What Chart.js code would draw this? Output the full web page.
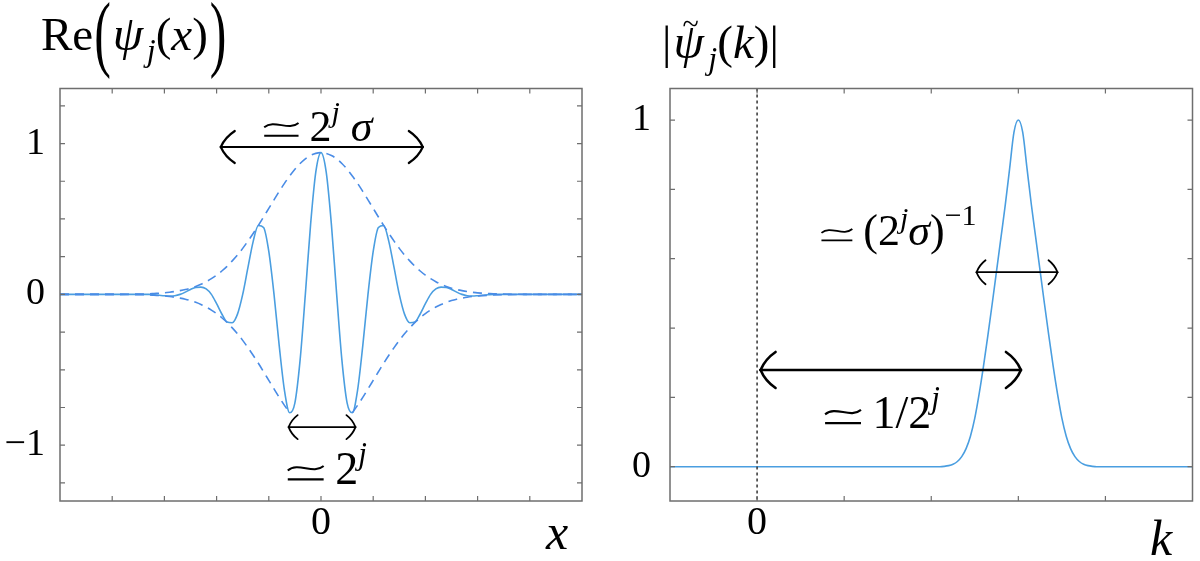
<!DOCTYPE html>
<html>
<head>
<meta charset="utf-8">
<title>Wavelet and its spectrum</title>
<script src="https://cdn.jsdelivr.net/npm/chart.js@4.4.1/dist/chart.umd.min.js"></script>
<style>
  html, body { margin: 0; padding: 0; background: #fff; }
  #wrap { position: relative; width: 1200px; height: 561px; }
  .panel { position: absolute; top: 0; width: 600px; height: 561px; }
  #leftPanel { left: 0; }
  #rightPanel { left: 600px; }
</style>
</head>
<body>
<div id="wrap">
  <div class="panel" id="leftPanel"><canvas id="waveletChart" width="600" height="561"></canvas></div>
  <div class="panel" id="rightPanel"><canvas id="spectrumChart" width="600" height="561"></canvas></div>
</div>
<script>
// ---- data ----

// left panel: sample positions along x
const xGrid = [-5, -4, -3.5, -3.3, -3.2, -3.1, -3, -2.9, -2.8, -2.7, -2.6, -2.5, -2.4, -2.3, -2.2, -2.1, -2,
  -1.9, -1.8, -1.7, -1.6, -1.5, -1.4, -1.3, -1.2, -1.1, -1, -0.9, -0.8, -0.7, -0.6, -0.5, -0.4, -0.3, -0.2, -0.1,
  0, 0.1, 0.2, 0.3, 0.4, 0.5, 0.6, 0.7, 0.8, 0.9, 1, 1.1, 1.2, 1.3, 1.4, 1.5, 1.6, 1.7, 1.8, 1.9, 2,
  2.1, 2.2, 2.3, 2.4, 2.5, 2.6, 2.7, 2.8, 2.9, 3, 3.1, 3.2, 3.3, 3.5, 4, 5];

// Re(psi_j(x)) – solid curve
const waveletRe = [0, 0, 0,
  0, -0.003, -0.006, -0.009, -0.011, -0.009, 0, 0.015, 0.033, 0.046, 0.048, 0.036, 0, -0.062,
  -0.13, -0.183, -0.188, -0.131, 0, 0.177, 0.35, 0.457, 0.444, 0.285, 0, -0.342, -0.637, -0.785, -0.719, -0.434, 0, 0.461, 0.81,
  0.94,
  0.81, 0.461, 0, -0.434, -0.719, -0.785, -0.637, -0.342, 0, 0.285, 0.444, 0.457, 0.35, 0.177, 0, -0.131, -0.188, -0.183, -0.13, -0.062,
  0, 0.036, 0.048, 0.046, 0.033, 0.015, 0, -0.009, -0.011, -0.009, -0.006, -0.003, 0,
  0, 0, 0];

// dashed envelope, upper and lower (the lower one is hidden under the "≃ 2^j" label between the troughs)
const envelopeUpper = [0, 0, 0.002,
  0.004, 0.006, 0.008, 0.01, 0.014, 0.019, 0.025, 0.032, 0.041, 0.053, 0.067, 0.084, 0.104, 0.127,
  0.155, 0.186, 0.222, 0.261, 0.305, 0.353, 0.404, 0.457, 0.513, 0.57, 0.627, 0.683, 0.736, 0.785, 0.83, 0.868, 0.899, 0.921, 0.935,
  0.94,
  0.935, 0.921, 0.899, 0.868, 0.83, 0.785, 0.736, 0.683, 0.627, 0.57, 0.513, 0.457, 0.404, 0.353, 0.305, 0.261, 0.222, 0.186, 0.155, 0.127,
  0.104, 0.084, 0.067, 0.053, 0.041, 0.032, 0.025, 0.019, 0.014, 0.01, 0.008, 0.006, 0.004,
  0.002, 0, 0];

const envelopeLower = [0, 0, -0.002,
  -0.004, -0.006, -0.008, -0.01, -0.014, -0.019, -0.025, -0.032, -0.041, -0.053, -0.067, -0.084, -0.104, -0.127,
  -0.155, -0.186, -0.222, -0.261, -0.305, -0.353, -0.404, -0.457, -0.513, -0.57, -0.627, -0.683, -0.736, -0.785, null, null, null, null, null,
  null,
  null, null, null, null, null, -0.785, -0.736, -0.683, -0.627, -0.57, -0.513, -0.457, -0.404, -0.353, -0.305, -0.261, -0.222, -0.186, -0.155, -0.127,
  -0.104, -0.084, -0.067, -0.053, -0.041, -0.032, -0.025, -0.019, -0.014, -0.01, -0.008, -0.006, -0.004,
  -0.002, 0, 0];

// right panel: sample positions along k
const kGrid = [-1, 0, 1, 2, 2.1, 2.15, 2.2, 2.25, 2.3, 2.35, 2.4, 2.45, 2.5, 2.55, 2.6, 2.65, 2.7, 2.75, 2.8, 2.85, 2.9, 2.95,
  3, 3.05, 3.1, 3.15, 3.2, 3.25, 3.3, 3.35, 3.4, 3.45, 3.5, 3.55, 3.6, 3.65, 3.7, 3.75, 3.8, 3.85, 3.9, 4, 5];

// |psi~_j(k)|
const spectrumAbs = [0, 0, 0, 0, 0, 0.001, 0.003, 0.007, 0.015, 0.029, 0.052, 0.088, 0.14, 0.21, 0.29, 0.378, 0.47, 0.565, 0.66, 0.755, 0.86, 0.965,
  1, 0.965, 0.86, 0.755, 0.66, 0.565, 0.47, 0.378, 0.29, 0.21, 0.14, 0.088, 0.052, 0.029, 0.015, 0.007, 0.003, 0.001, 0, 0, 0];

// labelled ticks
const leftYLabels = [-1, 0, 1];
const leftXLabels = [0];
const rightYLabels = [0, 1];
const rightXLabels = [0];

// ---- styling ----
const SERIF = '"Liberation Serif", "DejaVu Serif", serif';
const MATH = '"Liberation Serif", "DejaVu Serif", serif';
const SIMEQ = '\u2243';
const LINE_BLUE = '#4a9ee0';
const DASH_BLUE = '#4a8ce6';
const FRAME_GREY = '#6e6e6e';

function toPoints(xs, ys) {
    return xs.map((x, i) => ({ x: x, y: ys[i] }));
}

function labelFor(list) {
    return function(value) {
        const hit = list.find(v => Math.abs(v - value) < 1e-6);
        if (hit === undefined) return '';
        return hit < 0 ? '\u2212' + Math.abs(hit) : String(hit);
    };
}

// thin "asymptotically equal" sign, drawn by hand (font glyphs are too heavy)
function drawSimeq(ctx, x0, base, fs) {
    const w = 0.78 * fs;
    const a = 0.07 * fs;
    const yc = base - 0.35 * fs;
    const yl = base - 0.11 * fs;
    ctx.save();
    ctx.strokeStyle = '#000';
    ctx.lineWidth = Math.max(1.3, 0.045 * fs);
    ctx.lineCap = 'butt';
    ctx.beginPath();
    ctx.moveTo(x0, yc + a * 0.7);
    ctx.bezierCurveTo(x0 + w * 0.3, yc - 2.1 * a, x0 + w * 0.7, yc + 2.1 * a, x0 + w, yc - a * 0.7);
    ctx.moveTo(x0, yl);
    ctx.lineTo(x0 + w, yl);
    ctx.stroke();
    ctx.restore();
    return w;
}

// draw a run of text pieces: [text, italic, sizeFactor, dy]
function drawRuns(ctx, runs, x, y, size, align) {
    const fontOf = r => (r[1] ? 'italic ' : '') + Math.round(size * (r[2] || 1)) + 'px ' + MATH;
    const widthOf = r => {
        if (r[0] === SIMEQ) return 0.78 * size * (r[2] || 1);
        ctx.font = fontOf(r);
        return ctx.measureText(r[0]).width;
    };
    let total = 0;
    runs.forEach(r => { total += widthOf(r); });
    let cx = align === 'center' ? x - total / 2 : x;
    ctx.textAlign = 'left';
    ctx.textBaseline = 'alphabetic';
    runs.forEach(r => {
        if (r[0] === SIMEQ) {
            cx += drawSimeq(ctx, cx, y, size * (r[2] || 1));
            return;
        }
        ctx.font = fontOf(r);
        ctx.fillText(r[0], cx, y + (r[3] || 0));
        cx += ctx.measureText(r[0]).width;
    });
    return cx;
}

// LaTeX style double arrow with curved barbs
function drawDoubleArrow(ctx, x1, x2, y, lw, L, H) {
    ctx.save();
    ctx.strokeStyle = '#000';
    ctx.lineWidth = lw;
    ctx.lineCap = 'round';
    ctx.beginPath();
    ctx.moveTo(x1, y);
    ctx.lineTo(x2, y);
    ctx.stroke();
    [[x1, 1], [x2, -1]].forEach(([tx, dir]) => {
        [-1, 1].forEach(s => {
            ctx.beginPath();
            ctx.moveTo(tx, y);
            ctx.quadraticCurveTo(tx + dir * L * 0.3, y + s * H * 0.6, tx + dir * L, y + s * H);
            ctx.stroke();
        });
    });
    ctx.restore();
}

// frame, inward ticks and annotations
const framePlugin = {
    id: 'frame',
    afterDraw(chart, args, opts) {
        const ctx = chart.ctx;
        const area = chart.chartArea;
        const xs = chart.scales.x;
        const ys = chart.scales.y;
        ctx.save();

        // zero line (right panel)
        if (opts.zeroLine) {
            const px = xs.getPixelForValue(0);
            ctx.strokeStyle = '#333';
            ctx.lineWidth = 1.5;
            ctx.setLineDash([3, 3]);
            ctx.beginPath();
            ctx.moveTo(px, area.top);
            ctx.lineTo(px, area.bottom);
            ctx.stroke();
            ctx.setLineDash([]);
        }

        // box
        ctx.strokeStyle = FRAME_GREY;
        ctx.lineWidth = 1.5;
        ctx.strokeRect(area.left, area.top, area.right - area.left, area.bottom - area.top);

        // inward tick marks on all four sides
        const tl = 5;
        ctx.lineWidth = 1.2;
        ctx.beginPath();
        xs.ticks.forEach(t => {
            const px = xs.getPixelForValue(t.value);
            if (px <= area.left + 1 || px >= area.right - 1) return;
            ctx.moveTo(px, area.bottom); ctx.lineTo(px, area.bottom - tl);
            ctx.moveTo(px, area.top); ctx.lineTo(px, area.top + tl);
        });
        ys.ticks.forEach(t => {
            const py = ys.getPixelForValue(t.value);
            if (py <= area.top + 1 || py >= area.bottom - 1) return;
            ctx.moveTo(area.left, py); ctx.lineTo(area.left + tl, py);
            ctx.moveTo(area.right, py); ctx.lineTo(area.right - tl, py);
        });
        ctx.stroke();

        // arrows
        ctx.fillStyle = '#000';
        (opts.arrows || []).forEach(a => {
            drawDoubleArrow(ctx, xs.getPixelForValue(a.from), xs.getPixelForValue(a.to),
                ys.getPixelForValue(a.y), a.lw, a.L, a.H);
        });

        // math labels
        (opts.notes || []).forEach(n => {
            drawRuns(ctx, n.runs, xs.getPixelForValue(n.x), ys.getPixelForValue(n.y), n.size, 'center');
        });

        // axis name at the bottom right
        if (opts.axisName) {
            ctx.font = 'italic ' + opts.axisName.size + 'px ' + MATH;
            ctx.textAlign = 'left';
            ctx.textBaseline = 'alphabetic';
            ctx.fillText(opts.axisName.text, opts.axisName.px, opts.axisName.py);
        }

        // panel title
        if (opts.title) opts.title(ctx);
        ctx.restore();
    }
};

function bigParen(ctx, ch, x, size, centerY, stretch) {
    ctx.save();
    ctx.font = size + 'px ' + MATH;
    const w = ctx.measureText(ch).width;
    ctx.translate(x, centerY + size * 0.235 * stretch);
    ctx.scale(1, stretch);
    ctx.textAlign = 'left';
    ctx.textBaseline = 'alphabetic';
    ctx.fillText(ch, 0, 0);
    ctx.restore();
    return x + w;
}

function leftTitle(ctx) {
    const base = 50;
    const size = 47;
    let x = drawRuns(ctx, [['Re', false, 1, 0]], 41, base, size, 'left');
    x = bigParen(ctx, '(', x + 1, 50, 41, 1.7);
    x = drawRuns(ctx, [['\u03C8', true, 1.05, 0], [' ', false, 0.3, 0], ['j', true, 0.68, 11], ['(', false, 1, 0], ['x', true, 1, 0], [')', false, 1, 0]], x + 2, base, size, 'left');
    bigParen(ctx, ')', x + 2, 50, 41, 1.7);
}

function rightTitle(ctx) {
    const base = 58;
    const size = 47;
    let x = drawRuns(ctx, [['|', false, 1, 0]], 62, base, size, 'left');
    const psiX = x + 2;
    x = drawRuns(ctx, [['\u03C8', true, 1.05, 0]], psiX, base, size, 'left');
    ctx.font = '30px ' + MATH;
    ctx.fillText('~', psiX + 9, base - 24);
    drawRuns(ctx, [[' ', false, 0.3, 0], ['j', true, 0.68, 11], ['(', false, 1, 0], ['k', true, 1, 0], [')|', false, 1, 0]], x + 1, base, size, 'left');
}

function baseOptions(cfg) {
    return {
        responsive: false,
        animation: false,
        events: [],
        layout: { padding: cfg.padding },
        plugins: {
            legend: { display: false },
            tooltip: { enabled: false },
            frame: cfg.frame
        },
        scales: {
            x: {
                type: 'linear',
                min: cfg.xMin,
                max: cfg.xMax,
                grid: { display: false },
                border: { display: false },
                afterFit: s => { s.height = 60; },
                ticks: {
                    stepSize: 1,
                    includeBounds: false,
                    autoSkip: false,
                    maxRotation: 0,
                    padding: -10,
                    color: '#000',
                    font: { family: SERIF, size: 40 },
                    callback: labelFor(cfg.xLabels)
                }
            },
            y: {
                type: 'linear',
                min: cfg.yMin,
                max: cfg.yMax,
                grid: { display: false },
                border: { display: false },
                afterFit: s => { s.width = cfg.yWidth; },
                ticks: {
                    stepSize: cfg.yStep,
                    includeBounds: false,
                    autoSkip: false,
                    padding: cfg.yPad,
                    color: '#000',
                    font: { family: SERIF, size: 38 },
                    callback: labelFor(cfg.yLabels)
                }
            }
        }
    };
}

document.addEventListener('DOMContentLoaded', function() {
    Chart.register(framePlugin);

    // Left panel: real part of the wavelet
    new Chart(document.getElementById('waveletChart').getContext('2d'), {
        type: 'line',
        data: {
            datasets: [
                {
                    label: 'envelope +',
                    data: toPoints(xGrid, envelopeUpper),
                    borderColor: DASH_BLUE,
                    borderWidth: 1.6,
                    borderDash: [9, 6],
                    pointRadius: 0,
                    cubicInterpolationMode: 'monotone'
                },
                {
                    label: 'envelope -',
                    data: toPoints(xGrid, envelopeLower),
                    borderColor: DASH_BLUE,
                    borderWidth: 1.6,
                    borderDash: [9, 6],
                    pointRadius: 0,
                    spanGaps: false,
                    cubicInterpolationMode: 'monotone'
                },
                {
                    label: 'Re psi',
                    data: toPoints(xGrid, waveletRe),
                    borderColor: LINE_BLUE,
                    borderWidth: 1.6,
                    pointRadius: 0,
                    cubicInterpolationMode: 'monotone'
                }
            ]
        },
        options: baseOptions({
            padding: { top: 88.5, right: 18, left: 0, bottom: 0 },
            xMin: -5, xMax: 5, xLabels: leftXLabels,
            yMin: -1.37, yMax: 1.365, yStep: 0.25, yLabels: leftYLabels, yWidth: 60, yPad: 7,
            frame: {
                arrows: [
                    { from: -1.92, to: 1.95, y: 0.977, lw: 2.2, L: 14, H: 16 },
                    { from: -0.62, to: 0.66, y: -0.88, lw: 1.8, L: 9, H: 12 }
                ],
                notes: [
                    { x: -0.05, y: 1.02, size: 44, runs: [[SIMEQ, false, 1, 0], [' 2', false, 1, 0], ['j', true, 0.68, -19], [' \u03C3', true, 1, 0]] },
                    { x: 0.12, y: -1.26, size: 46, runs: [[SIMEQ, false, 1, 0], [' 2', false, 1, 0], ['j', true, 0.68, -20]] }
                ],
                axisName: { text: 'x', size: 50, px: 546, py: 549 },
                title: leftTitle
            }
        })
    });

    // Right panel: modulus of the Fourier transform
    new Chart(document.getElementById('spectrumChart').getContext('2d'), {
        type: 'line',
        data: {
            datasets: [
                {
                    label: '|psi~|',
                    data: toPoints(kGrid, spectrumAbs),
                    borderColor: LINE_BLUE,
                    borderWidth: 1.6,
                    pointRadius: 0,
                    cubicInterpolationMode: 'monotone'
                }
            ]
        },
        options: baseOptions({
            padding: { top: 88.5, right: 7.5, left: 0, bottom: 0 },
            xMin: -1, xMax: 5, xLabels: rightXLabels,
            yMin: -0.099, yMax: 1.091, yStep: 0.2, yLabels: rightYLabels, yWidth: 70, yPad: 11,
            frame: {
                zeroLine: true,
                arrows: [
                    { from: 2.52, to: 3.45, y: 0.561, lw: 1.8, L: 9, H: 12 },
                    { from: 0.04, to: 3.03, y: 0.279, lw: 2.6, L: 15, H: 18 }
                ],
                notes: [
                    { x: 1.63, y: 0.64, size: 44, runs: [[SIMEQ, false, 0.9, 0], [' (2', false, 1, 0], ['j', true, 0.68, -17], ['\u03C3', true, 1, 0], [')', false, 1, 0], ['\u22121', false, 0.68, -20]] },
                    { x: 1.44, y: 0.111, size: 46, runs: [[SIMEQ, false, 1, 0], [' 1/2', false, 1, 0], ['j', true, 0.68, -20]] }
                ],
                axisName: { text: 'k', size: 50, px: 1150 - 600, py: 555 },
                title: rightTitle
            }
        })
    });
});
</script>
</body>
</html>
